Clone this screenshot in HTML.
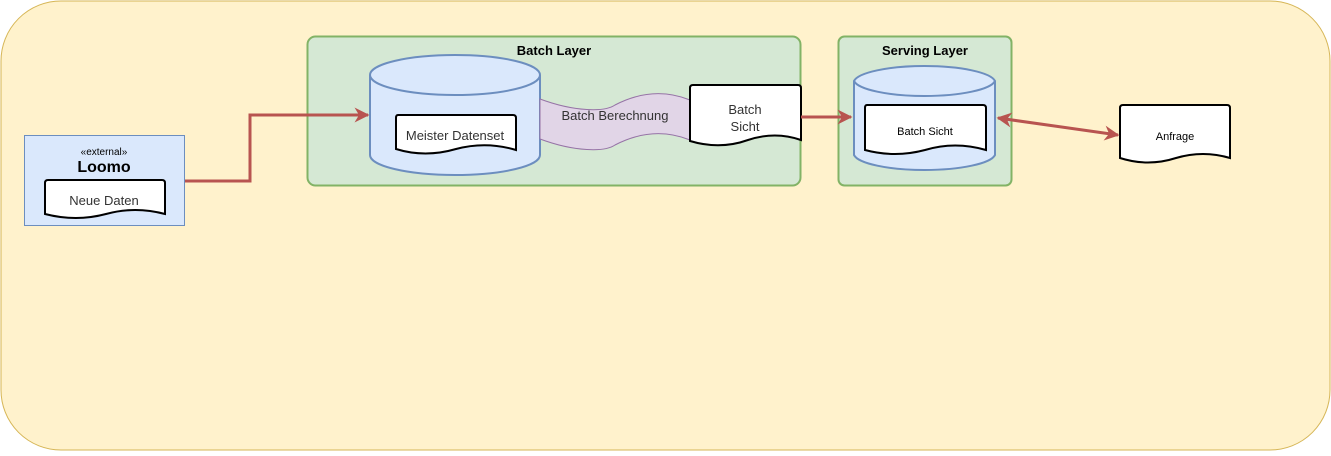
<!DOCTYPE html>
<html><head><meta charset="utf-8"><style>
html,body{margin:0;padding:0;background:#fff;}
svg text{font-family:"Liberation Sans",Arial,sans-serif;}
</style></head><body>
<svg width="1331" height="451" viewBox="0 0 1331 451" xmlns="http://www.w3.org/2000/svg">
<defs>
<marker id="ah" viewBox="0 0 10 10" refX="9" refY="5" markerWidth="5" markerHeight="5" orient="auto-start-reverse"><path d="M0,0 L10,5 L0,10 L3,5 z" fill="#b85450"/></marker>
</defs>
<rect x="1" y="1" width="1329" height="449" rx="60" fill="#fff2cc" stroke="#d6b656"/>
<!-- Loomo -->
<rect x="24.5" y="135.5" width="160" height="90" fill="#dae8fc" stroke="#6c8ebf"/>
<text x="104" y="155" font-size="10" text-anchor="middle" fill="#000">«external»</text>
<text x="104" y="172" font-size="16" font-weight="bold" text-anchor="middle" fill="#000">Loomo</text>
<path d="M48,180 L162,180 Q165,180 165,183 L165,214 Q135,206 106,214 Q76,222 45,214 L45,183 Q45,180 48,180 Z" fill="#fff" stroke="#000" stroke-width="2"/>
<text x="104" y="205" font-size="13" text-anchor="middle" fill="#333">Neue Daten</text>
<!-- Batch layer -->
<rect x="307.5" y="36.5" width="493" height="149" rx="8" fill="#d5e8d4" stroke="#82b366" stroke-width="2"/>
<text x="554" y="55" font-size="13" font-weight="bold" text-anchor="middle">Batch Layer</text>
<path d="M370,75 A85,20 0 0 1 540,75 L540,155 A85,20 0 0 1 370,155 Z" fill="#dae8fc" stroke="#6c8ebf" stroke-width="2"/>
<path d="M370,75 A85,20 0 0 0 540,75" fill="none" stroke="#6c8ebf" stroke-width="2"/>
<path d="M398,115 L513,115 Q516,115 516,118 L516,150 Q486,141 456,149 Q425,158 396,149 L396,118 Q396,115 398,115 Z" fill="#fff" stroke="#000" stroke-width="2"/>
<text x="455" y="140" font-size="13" text-anchor="middle" fill="#333">Meister Datenset</text>
<path d="M540,99 C575,112 605,112 615,105 C640,92 665,90 690,100 L690,140 C665,130 640,132 615,145 C605,152 575,152 540,139 Z" fill="#e1d5e7" stroke="#9673a6"/>
<text x="615" y="120" font-size="13" text-anchor="middle" fill="#333">Batch Berechnung</text>
<path d="M693,85 L798,85 Q801,85 801,88 L801,140 Q775,131 748,140 Q720,150 690,141 L690,88 Q690,85 693,85 Z" fill="#fff" stroke="#000" stroke-width="2"/>
<text x="745" y="114" font-size="13" text-anchor="middle" fill="#333">Batch</text>
<text x="745" y="131" font-size="13" text-anchor="middle" fill="#333">Sicht</text>
<!-- Serving layer -->
<rect x="838.5" y="36.5" width="173" height="149" rx="6" fill="#d5e8d4" stroke="#82b366" stroke-width="2"/>
<text x="925" y="55" font-size="13" font-weight="bold" text-anchor="middle">Serving Layer</text>
<path d="M854,81 A71,17 0 0 1 995,81 L995,155 A71,17 0 0 1 854,155 Z" fill="#dae8fc" stroke="#6c8ebf" stroke-width="2"/>
<path d="M854,81 A71,17 0 0 0 995,81" fill="none" stroke="#6c8ebf" stroke-width="2"/>
<path d="M867,105 L983,105 Q986,105 986,108 L986,150 Q955,141 925,150 Q895,158 865,150 L865,108 Q865,105 867,105 Z" fill="#fff" stroke="#000" stroke-width="2"/>
<text x="925" y="135" font-size="11" text-anchor="middle" fill="#000">Batch Sicht</text>
<path d="M1123,105 L1227,105 Q1230,105 1230,108 L1230,158 Q1203,150 1176,158 Q1148,167 1120,158 L1120,108 Q1120,105 1123,105 Z" fill="#fff" stroke="#000" stroke-width="2"/>
<text x="1175" y="140" font-size="11" text-anchor="middle" fill="#000">Anfrage</text>
<!-- arrows on top -->
<path d="M185,181 L250,181 L250,115 L368,115" fill="none" stroke="#b85450" stroke-width="3" marker-end="url(#ah)"/>
<path d="M801,117 L851,117" fill="none" stroke="#b85450" stroke-width="3" marker-end="url(#ah)"/>
<path d="M998,118 L1118,135" fill="none" stroke="#b85450" stroke-width="3" marker-start="url(#ah)" marker-end="url(#ah)"/>
</svg>
</body></html>
